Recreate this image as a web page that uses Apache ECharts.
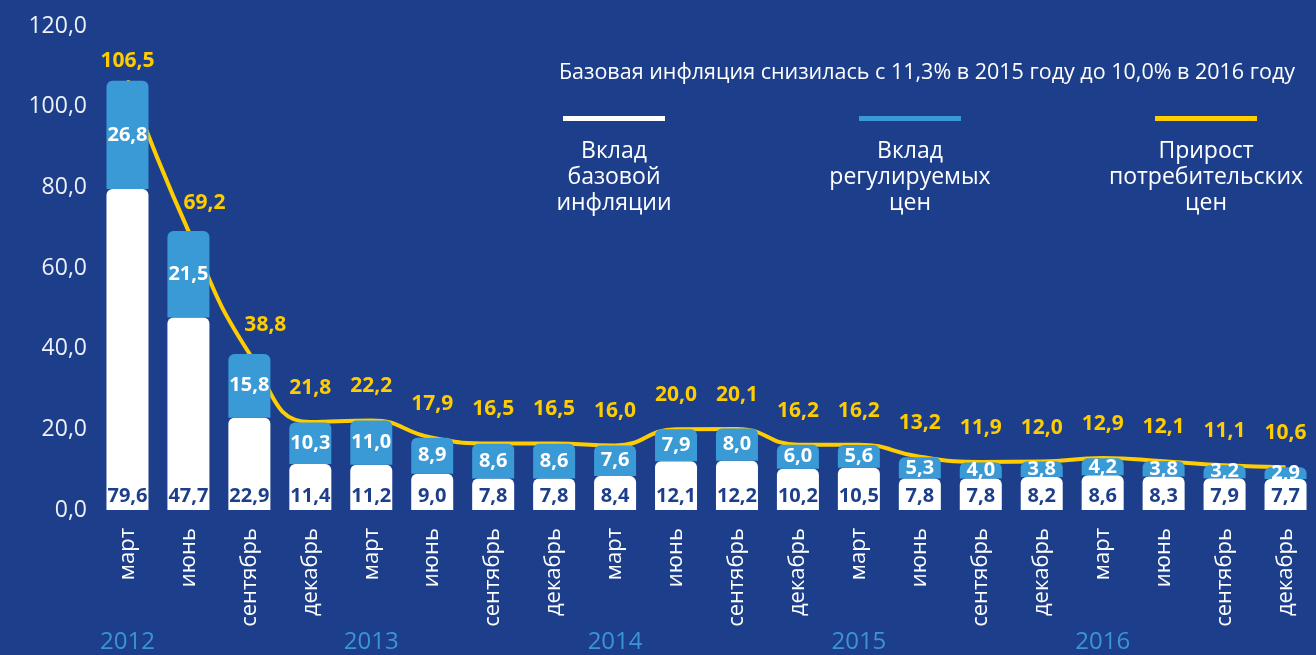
<!DOCTYPE html>
<html>
<head>
    <meta charset="utf-8">
    <title>Инфляция</title>
    <script src="https://cdn.jsdelivr.net/npm/echarts@6/dist/echarts.min.js"></script>
    <style>
        html, body { margin: 0; padding: 0; background: #1d3f8b; }
        #main { width: 1316px; height: 655px; }
    </style>
</head>
<body>
<div id="main"></div>
<script type="text/javascript">
    // months, grouped by year
    var months = [
        'март', 'июнь', 'сентябрь', 'декабрь',
        'март', 'июнь', 'сентябрь', 'декабрь',
        'март', 'июнь', 'сентябрь', 'декабрь',
        'март', 'июнь', 'сентябрь', 'декабрь',
        'март', 'июнь', 'сентябрь', 'декабрь'
    ];
    // year captions under the first quarter of each year
    var yearTicks = [
        '2012', '', '', '',
        '2013', '', '', '',
        '2014', '', '', '',
        '2015', '', '', '',
        '2016', '', '', ''
    ];
    var baseInflation = [79.6, 47.7, 22.9, 11.4, 11.2, 9.0, 7.8, 7.8, 8.4, 12.1,
                         12.2, 10.2, 10.5, 7.8, 7.8, 8.2, 8.6, 8.3, 7.9, 7.7];
    var regulatedPrices = [26.8, 21.5, 15.8, 10.3, 11.0, 8.9, 8.6, 8.6, 7.6, 7.9,
                           8.0, 6.0, 5.6, 5.3, 4.0, 3.8, 4.2, 3.8, 3.2, 2.9];
    var cpiGrowth = [106.5, 69.2, 38.8, 21.8, 22.2, 17.9, 16.5, 16.5, 16.0, 20.0,
                     20.1, 16.2, 16.2, 13.2, 11.9, 12.0, 12.9, 12.1, 11.1, 10.6];

    var seriesNames = ['Вклад базовой инфляции', 'Вклад регулируемых цен', 'Прирост потребительских цен'];
    var legendLabels = ['Вклад\nбазовой\nинфляции', 'Вклад\nрегулируемых\nцен', 'Прирост\nпотребительских\nцен'];
    var headline = 'Базовая инфляция снизилась с 11,3% в 2015 году до 10,0% в 2016 году';

    var BG = '#1d3f8b';
    var WHITE = '#ffffff';
    var BLUE = '#3a9ad6';
    var YELLOW = '#ffcc00';
    var colors = [WHITE, BLUE, YELLOW];
    var FONT = '"Open Sans", "Noto Sans", sans-serif';

    function fmt(v) {
        return Number(v).toFixed(1).replace('.', ',');
    }

    // the steep start of the line: labels sit to the right of it
    var cpiItems = cpiGrowth.map(function (v, i) {
        if (i === 0) return { value: v, label: { distance: 8 } };
        if (i === 1 || i === 2) return { value: v, label: { offset: [16, 6] } };
        return v;
    });

    var myChart = echarts.init(document.getElementById('main'));

    // legend drawn by hand: coloured stroke with a 3-line caption under it
    var legendX = [614, 910, 1206];
    var graphic = [{
        type: 'text',
        x: 927, y: 62,
        style: { text: headline, fill: WHITE, font: '21.5px ' + FONT, align: 'center' }
    }];
    legendX.forEach(function (x, i) {
        graphic.push({
            type: 'rect',
            shape: { x: x - 51, y: 116, width: 102, height: 5 },
            style: { fill: colors[i] }
        });
        graphic.push({
            type: 'text',
            x: x, y: 138,
            style: {
                text: legendLabels[i], fill: WHITE, font: '23px ' + FONT,
                align: 'center', lineHeight: 26
            }
        });
    });

    myChart.setOption({
        backgroundColor: BG,
        animation: false,
        grid: { left: 97, right: 0, top: 26, bottom: 145 },
        xAxis: [{
            type: 'category',
            data: months,
            axisLine: { show: false },
            axisTick: { show: false },
            axisLabel: {
                rotate: 90, margin: 18, interval: 0,
                color: WHITE, fontSize: 22, fontFamily: FONT
            }
        }, {
            type: 'category',
            data: yearTicks,
            position: 'bottom',
            offset: 118,
            axisLine: { show: false },
            axisTick: { show: false },
            axisLabel: {
                interval: 0, margin: 2,
                color: '#3a94d6', fontSize: 24, fontFamily: FONT
            }
        }],
        yAxis: {
            type: 'value',
            min: 0, max: 120, interval: 20,
            splitLine: { show: false },
            axisLine: { show: false },
            axisTick: { show: false },
            axisLabel: {
                margin: 10, color: '#eef1f8', fontSize: 23, fontFamily: FONT,
                formatter: fmt
            }
        },
        series: [{
            name: seriesNames[0],
            type: 'bar',
            stack: 'cpi',
            barWidth: 42,
            z: 3,
            data: baseInflation,
            itemStyle: { color: WHITE, borderRadius: [6, 6, 0, 0] },
            label: {
                show: true, position: 'insideBottom', distance: 4,
                color: BG, fontSize: 20, fontWeight: 'bold', fontFamily: FONT,
                formatter: function (p) { return fmt(p.value); }
            }
        }, {
            name: seriesNames[1],
            type: 'bar',
            stack: 'cpi',
            barWidth: 42,
            z: 3,
            data: regulatedPrices,
            itemStyle: { color: BLUE, borderRadius: [6, 6, 0, 0] },
            label: {
                show: true, position: 'inside',
                color: WHITE, fontSize: 20, fontWeight: 'bold', fontFamily: FONT,
                formatter: function (p) { return fmt(p.value); }
            }
        }, {
            name: seriesNames[2],
            type: 'line',
            smooth: true,
            symbol: 'circle',
            symbolSize: 1,
            z: 2,
            data: cpiItems,
            itemStyle: { color: YELLOW },
            lineStyle: { color: YELLOW, width: 4 },
            label: {
                show: true, position: 'top', distance: 23,
                color: YELLOW, fontSize: 21, fontWeight: 'bold', fontFamily: FONT,
                formatter: function (p) { return fmt(p.value); }
            }
        }],
        graphic: graphic
    });
</script>
</body>
</html>
